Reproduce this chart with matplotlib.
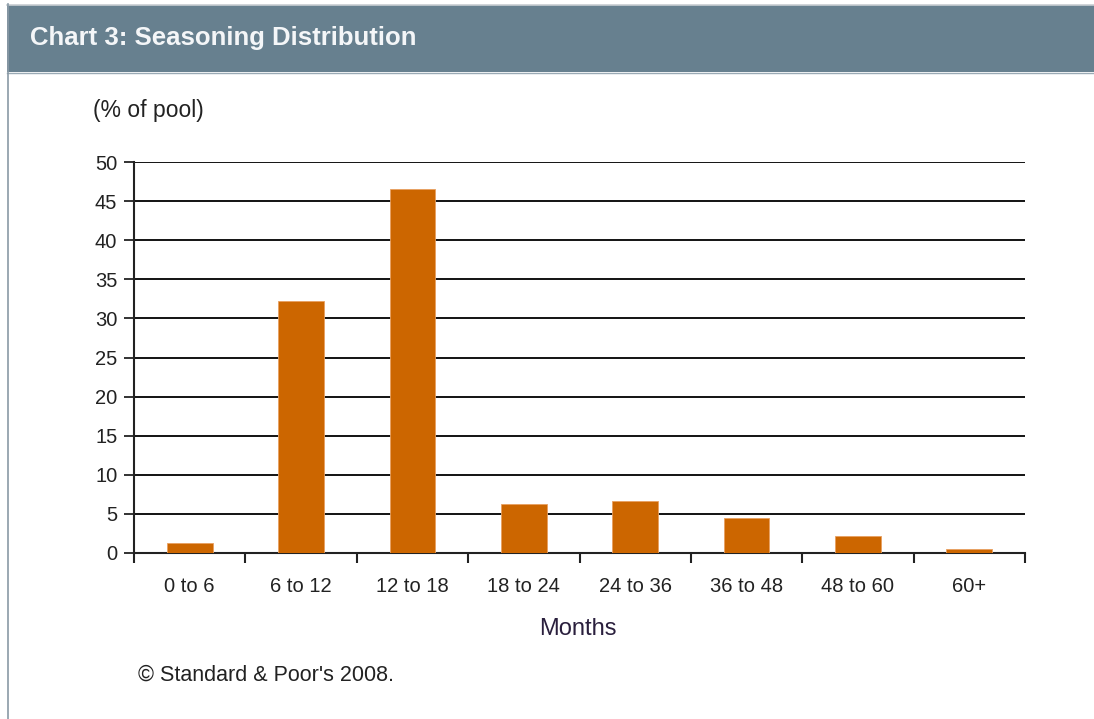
import numpy as np
import matplotlib
matplotlib.use("Agg")
import matplotlib.pyplot as plt
from matplotlib.patches import Rectangle

# data
categories = ["0 to 6", "6 to 12", "12 to 18", "18 to 24", "24 to 36", "36 to 48", "48 to 60", "60+"]
pct_of_pool = [1.3, 32.2, 46.5, 6.3, 6.6, 4.5, 2.2, 0.5]
y_ticks = [0, 5, 10, 15, 20, 25, 30, 35, 40, 45, 50]

bar_color = "#CC6600"
header_color = "#67808F"
text_color = "#222222"

plt.rcParams['font.family'] = ['Liberation Sans', 'DejaVu Sans']

W, H = 1094, 719
fig = plt.figure(figsize=(W / 100, H / 100), dpi=100)
fig.patch.set_facecolor("white")

# header band and frame
fig.add_artist(Rectangle((7 / W, 1 - 72 / H), 1 - 7 / W, 67 / H, transform=fig.transFigure,
                         facecolor=header_color, edgecolor="none"))
fig.add_artist(plt.Line2D([7 / W, 1], [1 - 4.5 / H, 1 - 4.5 / H], transform=fig.transFigure,
                          color="#C8CDD2", lw=1.2))
fig.add_artist(plt.Line2D([7 / W, 1], [1 - 72.5 / H, 1 - 72.5 / H], transform=fig.transFigure,
                          color="#9AAAB5", lw=1))
fig.add_artist(plt.Line2D([7.5 / W, 7.5 / W], [0, 1 - 4 / H], transform=fig.transFigure,
                          color="#8A9AA6", lw=1.2))
fig.text(30 / W, 1 - 38 / H, "Chart 3: Seasoning Distribution", color="#F4F6F8",
         fontsize=18.5, fontweight="bold", va="center", ha="left")

ax = fig.add_axes([134 / W, 1 - 553 / H, (1025 - 134) / W, (553 - 162) / H])
x = np.arange(len(categories))
ax.bar(x, pct_of_pool, width=0.41, color=bar_color, edgecolor="#E8A060", linewidth=0.6, zorder=3)

ax.set_xlim(-0.5, len(categories) - 0.5)
ax.set_ylim(0, 50)
ax.set_yticks(y_ticks)
ax.yaxis.grid(True, color="black", lw=1.3, zorder=1)
ax.set_axisbelow(True)

# ticks at category boundaries, labels centred
ax.set_xticks(np.arange(len(categories) + 1) - 0.5)
ax.set_xticklabels([])
ax.set_xticks(x, minor=True)
ax.set_xticklabels(categories, minor=True)
ax.tick_params(axis="x", which="major", direction="out", length=7, width=1.5, color="#222222")
ax.tick_params(axis="x", which="minor", length=0, pad=17, labelsize=14.5, labelcolor=text_color)
ax.tick_params(axis="y", direction="out", length=7, width=1.3, color="#222222",
               labelsize=14.5, labelcolor=text_color, pad=5)

for s in ["top", "right"]:
    ax.spines[s].set_visible(False)
ax.spines["left"].set_linewidth(1.5)
ax.spines["bottom"].set_linewidth(1.5)
ax.spines["left"].set_color("#222222")
ax.spines["bottom"].set_color("#222222")

fig.text(93 / W, 1 - 110 / H, "(% of pool)", color=text_color, fontsize=16.5, va="center", ha="left")
fig.text(578 / W, 1 - 629 / H, "Months", color="#2A1F3D", fontsize=17, va="center", ha="center")
fig.text(138 / W, 1 - 675 / H, "\u00a9 Standard & Poor's 2008.", color=text_color, fontsize=15.5,
         va="center", ha="left")

fig.savefig("out.png", dpi=100, facecolor="white")
